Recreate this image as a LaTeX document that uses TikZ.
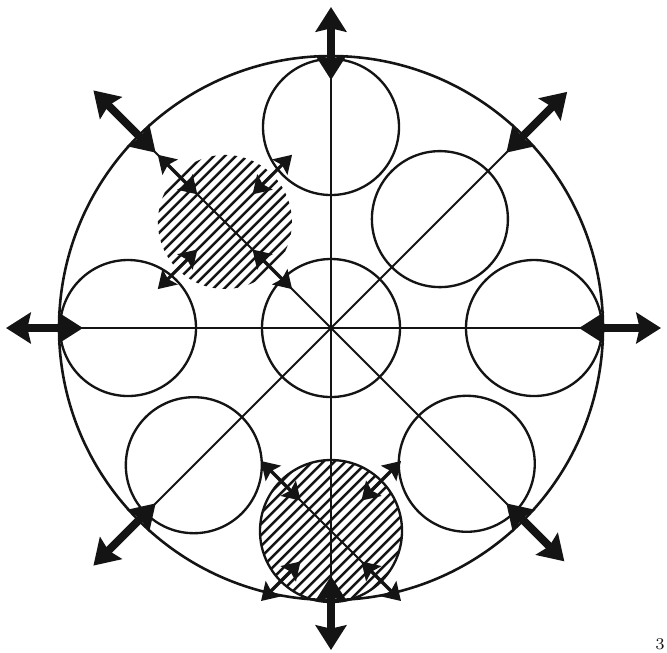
\documentclass[tikz,border=0pt]{standalone}
\usetikzlibrary{arrows.meta,calc}
\definecolor{ink}{RGB}{20,20,20}
\tikzset{
  rim/.style={draw=ink,line width=1.1pt},
  cell/.style={draw=ink,line width=1pt},
  spoke/.style={draw=ink,line width=0.8pt},
  hatch/.style={draw=ink,line width=1.05pt},
  % arrows
  push/.style={{Stealth[length=3.7mm,width=4.6mm,inset=0.5mm]}-{Stealth[length=3.7mm,width=4.6mm,inset=0.5mm]},draw=ink,line width=1.2mm},
  nudge/.style={{Stealth[length=2.6mm,width=3.2mm,inset=0.45mm]}-{Stealth[length=2.6mm,width=3.2mm,inset=0.45mm]},draw=ink,line width=0.5mm},
}
\begin{document}
\begin{tikzpicture}[x=0.15mm,y=0.15mm]
  \path[use as bounding box,fill=white] (-331,-324) rectangle (336,328);
  \coordinate (O) at (0,0);
  \coordinate (up) at (135:150);
  \coordinate (low) at (270:203);
  \foreach \c/\r in {up/67,low/71} {
    \begin{scope}
      \clip (\c) circle (\r);
      \foreach \k in {-110,-99,...,110} \draw[hatch] ($(\c)+(-110,-110+\k)$) -- ++(220,220);
    \end{scope}
  }
  \draw[cell] (low) circle (71);
  \draw[rim] (O) circle (272);
  \draw[cell] (O) circle (69);
  \foreach \a/\d in {0/203,90/201,180/203,45/154,225/194,315/192} \draw[cell] (\a:\d) circle (68);
  \foreach \a in {0,45,90,135} \draw[spoke] (\a:272) -- (\a+180:272);
  \draw[spoke] ($(low)+(135:95)$) -- ($(low)+(-45:93)$);
  \foreach \a/\e in {0/330,90/321,180/325,270/322,45/334,135/336,225/336,315/330} \draw[push] (\a:248) -- (\a:\e);
  \foreach \c/\r in {up/67,low/71} {
    \foreach \b in {45,135,225,315} \draw[nudge] ($(\c)+(\b:{\r-28})$) -- ($(\c)+(\b:{\r+28})$);
  }
  \node[font=\scriptsize,text=ink,inner sep=1pt] (pg) at (329,-316) {3};
\end{tikzpicture}
\end{document}
